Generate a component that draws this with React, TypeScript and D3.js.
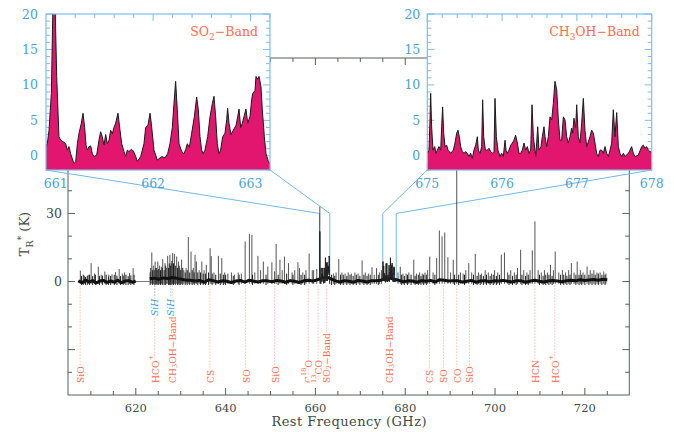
import React from 'react';
import * as d3 from 'd3';

const SERIF = "'DejaVu Serif', 'Liberation Serif', serif";

// ---------------- main spectrum data ----------------
const X_DOMAIN: [number, number] = [604.9, 729.9];
const Y_DOMAIN: [number, number] = [-50, 98.5];
const xTickLabels = [620, 640, 660, 680, 700, 720];
const yTickLabels = [0, 30];

const seg1Range = [607.2, 620.0];
const seg1Base = [0.3, -0.5, 0.6, -0.2, 0.4, -0.6, 0.2, 0.5, -0.4, 0.3, -0.3, 0.6, -0.5, 0.2, 0.4, -0.3, 0.2];
const seg2Range = [623.1, 725.0];
const seg2Base = [
  1.2, 1.5, 1.0, 1.6, 1.3, 1.8, 1.4, 1.0, 0.6,
  0.6, 0.2, 0.5, -0.3, 0.8, 0.4, -0.2, 0.3, 0.1,
  -0.4, 0.2, 0.5, -0.3, 0.6, 0.1, -0.2, 0.4, 0.3, -0.1,
  0.5, 0.2, -0.3, 0.4, 0.1, -0.4, 0.3, 0.6, 0.2, 0.8,
  1.5, 2.0, 1.2, 0.3, -0.2, 0.4, 0.1, -0.3, 0.5, 0.2,
  -0.2, 0.4, 0.3, 0.6, 1.2, 1.5, 1.0, 0.5, -0.1, 0.3,
  0.2, -0.3, 0.4, 0.1, 0.5, -0.2, 0.8, 0.6, 0.2, 0.4,
  0.3, -0.2, 0.1, 0.5, -0.3, 0.2, 0.4, -0.1, 0.3, 0.2,
  0.5, 0.1, -0.2, 0.4, 0.3, -0.3, 0.2, 0.6, 0.1, -0.2,
  0.3, 0.5, 0.2, -0.1, 0.4, 0.6, 0.3, 0.8, 0.5, 0.7,
  0.9, 0.6, 1.0, 0.8,
];

// strong lines
const peakFreq = [
  607.65, 608.6, 609.4, 610.05, 610.8, 611.65, 612.3, 613.1, 614.0, 614.7, 615.5, 616.3, 617.0, 617.5, 618.6, 619.4,
  623.3, 623.56, 623.9, 624.3, 624.6, 624.9, 625.3, 625.7, 626.0, 626.5, 626.8, 627.1, 627.6, 627.9, 628.2, 628.6, 629.1, 629.5, 629.8, 630.2, 630.7, 631.2, 631.7, 632.3, 632.8, 633.2, 633.5, 634.1, 634.7, 635.2, 635.7, 636.55, 636.8, 637.4, 638.4, 639.15, 639.8, 640.5, 641.3, 642.0, 642.8, 643.5, 644.35, 645.3, 645.85, 646.5, 647.2, 647.8, 648.4, 649.4, 650.3, 650.9, 651.25, 652.1, 652.6, 653.1, 654.0, 654.8, 655.4, 656.1, 656.45, 657.2, 657.9, 658.6, 659.3, 659.6, 660.3, 660.98,
  664.0, 664.6, 665.2, 665.9, 666.6, 667.3, 668.0, 668.8, 669.5, 670.4, 671.1, 671.8, 672.6, 673.1, 673.6, 674.3, 674.7,
  678.4, 678.9, 679.5, 680.2, 680.8, 681.9, 682.5, 683.2, 683.8, 684.4, 685.0, 685.45, 686.2, 687.0, 687.6, 688.2, 688.8, 689.5, 690.1, 690.7, 691.47, 692.3, 692.9, 693.5, 694.15, 694.8, 695.6, 696.3, 697.0, 697.8, 698.5, 699.2, 699.9, 700.6, 701.4, 702.1, 702.8, 703.5, 704.3, 705.0, 705.7, 706.4, 707.1, 707.8, 708.3, 708.88, 709.6, 710.3, 711.0, 711.7, 712.35, 713.0, 713.4, 714.2, 715.0, 715.7, 716.4, 717.0, 717.6, 718.3, 719.0, 719.6, 720.5, 721.2, 722.0, 722.7, 723.4, 724.2, 724.7,
];
const peakTemp = [
  4.8, 2.5, 3.0, 8.1, 3.5, 6.5, 3.0, 4.4, 3.0, 3.2, 4.2, 5.5, 3.5, 4.0, 3.7, 5.9,
  6.0, 12.8, 7.0, 8.8, 6.0, 8.8, 7.0, 6.5, 9.9, 8.1, 6.0, 11.3, 11.8, 8.0, 12.5, 12.2, 11.0, 8.8, 6.0, 9.6, 5.0, 6.0, 19.6, 13.2, 6.0, 11.8, 8.8, 5.0, 8.8, 5.0, 7.4, 14.7, 11.2, 4.0, 11.3, 10.3, 4.0, 3.5, 4.0, 3.0, 4.0, 3.5, 17.6, 21.0, 20.6, 4.0, 11.3, 5.0, 8.8, 6.6, 8.5, 4.5, 16.6, 9.6, 5.0, 11.0, 8.1, 4.0, 5.0, 8.5, 5.9, 4.0, 5.0, 12.3, 5.0, 5.0, 5.5, 33.0,
  3.5, 4.0, 9.9, 4.0, 3.5, 4.0, 3.5, 4.0, 3.5, 9.3, 4.0, 3.5, 6.3, 3.0, 5.9, 4.0, 5.0,
  4.0, 6.5, 3.5, 3.5, 4.0, 9.6, 3.5, 4.0, 3.5, 4.0, 5.0, 11.0, 4.0, 10.3, 22.5, 19.9, 21.6, 10.7, 4.0, 9.6, 60.0, 4.0, 3.5, 5.0, 8.1, 4.0, 12.2, 4.0, 3.5, 5.0, 4.0, 3.5, 5.0, 4.0, 11.8, 12.8, 4.0, 5.0, 4.0, 6.0, 14.0, 5.0, 4.0, 5.0, 13.7, 26.5, 5.0, 4.0, 5.0, 4.0, 7.4, 5.0, 13.2, 4.0, 5.0, 4.0, 5.0, 8.1, 4.0, 8.8, 5.0, 4.0, 6.6, 5.0, 5.0, 4.0, 4.0, 4.4, 3.5,
];

// weak features of the dense forest
const weakFreq = [
  607.9, 608.3, 608.8, 609.2, 609.7, 610.4, 611.0, 611.9, 612.6, 613.4, 613.9, 614.4, 615.2, 615.8, 616.6, 617.2, 617.8, 618.3, 618.9, 619.6,
  623.2, 623.7, 624.1, 624.45, 624.75, 625.1, 625.5, 625.9, 626.3, 626.65, 627.3, 627.45, 627.75, 628.05, 628.4, 628.8, 629.3, 629.65, 630.0, 630.45, 631.0, 631.45, 632.0, 632.55, 633.0, 633.8, 634.4, 635.0, 635.5, 636.2, 637.0, 637.8, 638.8, 639.5,
  640.0, 641.7, 643.0, 646.0, 649.0, 651.7, 653.6, 655.0, 656.8, 657.6, 663.6, 664.3, 665.6, 666.2, 667.0, 667.7, 668.4, 669.1, 669.9, 670.8, 671.5, 672.2, 674.0,
  679.2, 679.8, 680.5, 681.3, 682.2, 682.9, 683.5, 684.1, 684.7, 686.6, 691.0, 691.9, 693.2, 695.2, 696.0, 696.7, 697.4, 698.1, 698.9, 699.6, 700.3, 701.0, 703.1, 703.9, 704.7, 706.0, 706.8, 707.4, 709.9, 710.7, 711.3, 712.0, 712.7, 714.6, 715.3, 716.0, 716.7, 718.0, 718.7, 719.3, 720.0, 720.9, 721.6, 722.3, 723.0, 723.8, 724.5,
];
const weakTemp = [
  2.5, 3.0, 2.0, 2.5, 3.0, 2.5, 3.0, 2.5, 2.6, 3.0, 2.2, 2.5, 3.0, 2.6, 2.4, 2.6, 3.0, 2.4, 2.7, 3.0,
  4.0, 5.0, 5.0, 6.0, 5.0, 5.5, 5.0, 6.0, 5.0, 7.0, 6.0, 8.0, 7.0, 9.0, 8.0, 7.0, 6.0, 7.0, 5.0, 6.0, 4.0, 5.0, 4.0, 5.0, 4.0, 4.0, 4.0, 3.5, 3.5, 4.0, 3.5, 3.0, 3.5, 3.0,
  3.0, 2.5, 3.0, 3.0, 3.0, 3.0, 3.5, 3.0, 3.0, 3.0, 3.0, 2.5, 3.0, 3.0, 2.5, 3.0, 2.5, 3.0, 2.5, 3.0, 2.5, 3.0, 3.0,
  3.0, 2.5, 3.0, 3.0, 2.5, 3.0, 2.5, 3.0, 3.0, 3.0, 3.0, 3.0, 3.0, 3.0, 2.5, 3.0, 2.5, 3.0, 2.5, 3.0, 2.5, 3.0, 3.0, 2.5, 3.0, 3.0, 2.5, 3.0, 3.0, 2.5, 3.0, 3.0, 2.5, 3.0, 3.0, 2.5, 3.0, 3.0, 3.0, 3.0, 3.0, 3.0, 3.5, 3.0, 3.5, 3.0, 3.0,
];

// ---------------- inset data ----------------
const so2Freq = [
  660.900, 660.914, 660.931, 660.955, 660.972, 660.992, 661.010, 661.033, 661.051, 661.085, 661.102, 661.119, 661.136, 661.153, 661.187, 661.205, 661.222, 661.239, 661.263, 661.280, 661.297, 661.311, 661.324, 661.341, 661.359, 661.376, 661.393, 661.420, 661.444, 661.461, 661.478, 661.495, 661.513, 661.530, 661.547, 661.564, 661.581, 661.598, 661.615, 661.639, 661.660, 661.677, 661.701, 661.718, 661.735, 661.752, 661.776, 661.797, 661.821, 661.838, 661.872, 661.906, 661.923, 661.947, 661.968, 661.981, 662.009, 662.043, 662.088, 662.122, 662.149, 662.173, 662.197, 662.214, 662.231, 662.248, 662.266, 662.293, 662.317, 662.334, 662.351, 662.372, 662.396, 662.423, 662.447, 662.464, 662.481, 662.498, 662.515, 662.532, 662.560, 662.584, 662.608, 662.625, 662.642, 662.659, 662.676, 662.693, 662.714, 662.738, 662.755, 662.765, 662.779, 662.799, 662.823, 662.851, 662.868, 662.882, 662.899, 662.916, 662.936, 662.953, 662.971, 662.994, 663.012, 663.022, 663.046, 663.056, 663.073, 663.087, 663.107, 663.121, 663.142, 663.159, 663.183, 663.200,
];
const so2Temp = [
  1.3, 1.8, 3.6, 8.8, 22, 22, 11.2, 2.7, 2.2, 1.9, 1.7, 0.8, 1.3, 0.3, -1.1, -0.8, 1.7, 3.2, 4.6, 6.0, 4.0, 1.5, 0.8, 1.3, 1.4, 0.3, -0.1, 0.1, 2.2, 3.4, 2.7, 1.5, 3.0, 1.7, 2.2, 3.6, 3.1, 4.0, 4.6, 6.0, 3.6, 1.7, 0.6, -0.1, 0.8, 0.6, 0.9, 0.7, -0.1, -0.8, -0.1, 1.7, 4.0, 4.3, 6.0, 4.6, 0.8, -0.6, -0.1, -0.3, 0.3, 1.7, 4.0, 7.4, 10.5, 6.5, 1.7, 0.6, 0.3, 0.9, 1.7, 1.2, 3.2, 5.5, 8.3, 6.5, 2.7, 0.8, 0.3, 0.8, 2.7, 5.5, 7.4, 8.4, 5.5, 1.7, 0.3, 0.8, 2.7, 3.2, 5.1, 6.7, 4.6, 3.0, 3.6, 4.3, 5.5, 6.6, 4.0, 4.6, 5.7, 6.6, 4.6, 5.5, 7.9, 8.8, 9.2, 11.2, 10.8, 11.2, 9.8, 6.5, 2.7, 0.3, -0.8, -1.1,
];

const ch3ohFreq = [
  675.000, 675.023, 675.036, 675.045, 675.058, 675.076, 675.099, 675.116, 675.134, 675.156, 675.179, 675.192, 675.205, 675.219, 675.237, 675.259, 675.277, 675.295, 675.312, 675.348, 675.370, 675.393, 675.410, 675.428, 675.446, 675.468, 675.491, 675.513, 675.535, 675.557, 675.580, 675.602, 675.624, 675.647, 675.669, 675.682, 675.705, 675.727, 675.740, 675.754, 675.776, 675.803, 675.825, 675.847, 675.869, 675.892, 675.905, 675.923, 675.945, 675.972, 675.994, 676.016, 676.039, 676.052, 676.070, 676.092, 676.115, 676.137, 676.159, 676.181, 676.204, 676.226, 676.248, 676.270, 676.293, 676.315, 676.337, 676.360, 676.382, 676.400, 676.418, 676.449, 676.462, 676.476, 676.493, 676.520, 676.538, 676.560, 676.574, 676.596, 676.618, 676.640, 676.663, 676.685, 676.707, 676.730, 676.752, 676.774, 676.796, 676.819, 676.841, 676.863, 676.885, 676.908, 676.930, 676.943, 676.961, 676.984, 676.997, 677.019, 677.041, 677.064, 677.086, 677.108, 677.131, 677.153, 677.175, 677.197, 677.220, 677.242, 677.264, 677.286, 677.309, 677.331, 677.353, 677.376, 677.398, 677.420, 677.443, 677.465, 677.487, 677.509, 677.532, 677.554, 677.576, 677.599, 677.621, 677.643, 677.688, 677.710, 677.732, 677.754, 677.777, 677.821, 677.866, 677.888, 677.910, 677.933, 677.955, 677.977, 678.000,
];
const ch3ohTemp = [
  0.35, 0.8, 5.0, 8.8, 4.1, 0.8, 1.3, 0.35, 0.8, 1.3, 0.8, 4.1, 6.9, 3.2, 1.3, 1.5, 0.8, 0.6, 0.35, 0.8, 1.8, 3.2, 3.6, 2.7, 1.3, 0.6, 0.35, 0.6, 0.35, -0.1, 0.35, -0.35, 0.8, 1.5, 2.7, 0.8, 0.35, 1.3, 7.9, 2.7, 0.8, 0.8, 1.06, 0.6, 0.35, 0.6, 8.1, 2.7, 0.8, -0.1, 0.35, -0.1, 2.2, 0.8, 0.35, 0.8, 1.5, 1.8, 2.2, 2.9, 1.8, 0.35, 0.35, 0.8, 1.8, 0.8, 1.3, 0.35, 0.8, 7.2, 2.7, -0.1, 1.8, 4.1, 0.8, 1.3, 2.7, 4.1, 2.7, 1.3, 2.7, 5.5, 5.05, 7.4, 10.5, 9.3, 5.05, 2.2, 2.2, 5.5, 5.05, 2.7, 1.8, 2.7, 3.9, 3.2, 5.3, 3.9, 7.2, 2.7, 1.8, 4.6, 8.1, 3.6, 1.3, 2.0, 2.7, 3.6, 3.2, 1.8, 0.35, -0.1, 0.8, 0.8, 0.35, 1.3, 0.35, -0.1, 0.8, 1.8, 6.5, 2.7, 6.1, 1.3, 0.35, -0.1, 0.35, -0.1, 0.35, 0.8, 1.3, 0.35, -0.1, 0.1, 1.3, 1.5, 1.06, 1.3, 0.8, 0.6, 0.5,
];

// ---------------- line identifications ----------------
const lineFreqs = [607.6, 624.2, 628.1, 636.5, 644.45, 650.9, 658.4, 660.6, 662.45, 676.45, 685.4, 688.5, 691.47, 694.3, 708.88, 713.3];
const lineNames = ['SiO', 'HCO^+', 'CH_3OH\u2212Band', 'CS', 'SO', 'SiO', 'C^{18}O', '^{13}CO', 'SO_2\u2212Band', 'CH_3OH\u2212Band', 'CS', 'SO', 'CO', 'SiO', 'HCN', 'HCO^+'];
const sihFreqs = [624.2, 627.75];

// ---------------- helpers ----------------
type Seg = { t: string; k: 'n' | 'sup' | 'sub' };
function parseRich(s: string): Seg[] {
  const out: Seg[] = [];
  let buf = '';
  let i = 0;
  while (i < s.length) {
    const c = s[i];
    if (c === '^' || c === '_') {
      if (buf) { out.push({ t: buf, k: 'n' }); buf = ''; }
      let t = '';
      if (s[i + 1] === '{') {
        const j = s.indexOf('}', i + 2);
        t = s.slice(i + 2, j);
        i = j + 1;
      } else {
        t = s[i + 1];
        i += 2;
      }
      out.push({ t, k: c === '^' ? 'sup' : 'sub' });
    } else {
      buf += c;
      i++;
    }
  }
  if (buf) out.push({ t: buf, k: 'n' });
  return out;
}
function richSpans(s: string, fs: number) {
  let shift = 0;
  return parseRich(s).map((sg, i) => {
    const target = sg.k === 'sup' ? -0.42 * fs : sg.k === 'sub' ? 0.3 * fs : 0;
    const dy = target - shift;
    shift = target;
    return (
      <tspan key={i} dy={dy} fontSize={sg.k === 'n' ? fs : fs * 0.72}>
        {sg.t}
      </tspan>
    );
  });
}

const INSET_BLUE = '#7dbde9';
const INSET_TEXT = '#4a9fd8';
const RED = '#ff6a4d';
const AXIS = '#55625a';
const AXIS_TEXT = '#3d4c44';

type InsetProps = {
  id: string;
  x0: number; x1: number; y0: number; y1: number;
  fDomain: [number, number];
  freq: number[]; temp: number[];
  title: string;
  xLabels: number[];
  labelGap: number;
};

function Inset(p: InsetProps) {
  const xs = d3.scaleLinear().domain(p.fDomain).range([p.x0, p.x1]);
  const ys = d3.scaleLinear().domain([-2, 20]).range([p.y1, p.y0]);
  const pts = p.freq.map((f, i) => [f, p.temp[i]] as [number, number]);
  const area = d3.area<[number, number]>().x(d => xs(d[0])).y0(ys(-2)).y1(d => ys(d[1]))(pts) || '';
  const line = d3.line<[number, number]>().x(d => xs(d[0])).y(d => ys(d[1]))(pts) || '';
  const xt = d3.range(Math.ceil(p.fDomain[0] * 5 - 1e-6), Math.floor(p.fDomain[1] * 5 + 1e-6) + 1).map(k => k / 5);
  const yt = d3.range(-2, 21);
  const isMajX = (f: number) => Math.abs(f - Math.round(f)) < 1e-6;
  const isMajY = (t: number) => t % 5 === 0;
  return (
    <g>
      <defs>
        <clipPath id={p.id}>
          <rect x={p.x0} y={p.y0} width={p.x1 - p.x0} height={p.y1 - p.y0} />
        </clipPath>
      </defs>
      <rect x={p.x0} y={p.y0} width={p.x1 - p.x0} height={p.y1 - p.y0} fill="#fff" />
      <g stroke={INSET_BLUE} strokeWidth={1}>
        {xt.map(f => (
          <g key={'x' + f}>
            <line x1={xs(f)} x2={xs(f)} y1={p.y0} y2={p.y0 + (isMajX(f) ? 7 : 4)} />
            <line x1={xs(f)} x2={xs(f)} y1={p.y1} y2={p.y1 - (isMajX(f) ? 7 : 4)} />
          </g>
        ))}
        {yt.map(t => (
          <g key={'y' + t}>
            <line x1={p.x0} x2={p.x0 + (isMajY(t) ? 7 : 4)} y1={ys(t)} y2={ys(t)} />
            <line x1={p.x1} x2={p.x1 - (isMajY(t) ? 7 : 4)} y1={ys(t)} y2={ys(t)} />
          </g>
        ))}
      </g>
      <g clipPath={`url(#${p.id})`}>
        <path d={area} fill="#e2166f" />
        <path d={line} fill="none" stroke="#1a1a1a" strokeWidth={1} strokeLinejoin="round" />
      </g>
      <rect x={p.x0} y={p.y0} width={p.x1 - p.x0} height={p.y1 - p.y0} fill="none" stroke={INSET_BLUE} strokeWidth={1.2} />
      <g fill={INSET_TEXT} fontFamily={SERIF} fontSize={12.5}>
        {[0, 5, 10, 15, 20].map(t => (
          <text key={'yl' + t} x={p.x0 - p.labelGap} y={ys(t) + 4.5} textAnchor="end">{t}</text>
        ))}
        {p.xLabels.map(f => (
          <text key={'xl' + f} x={xs(f)} y={p.y1 + 18} textAnchor="middle">{f}</text>
        ))}
      </g>
      <text x={p.x1 - 12} y={p.y0 + 22} textAnchor="end" fill={RED} fontFamily={SERIF} fontSize={12.5}>
        {richSpans(p.title, 12.5)}
      </text>
    </g>
  );
}

export default function App() {
  const W = 674, H = 432;
  const xm = d3.scaleLinear().domain(X_DOMAIN).range([68, 629.3]);
  const ym = d3.scaleLinear().domain(Y_DOMAIN).range([395, 58]);

  const basePts = (range: number[], vals: number[]) =>
    vals.map((v, i) => [range[0] + (i * (range[1] - range[0])) / (vals.length - 1), v] as [number, number]);
  const mainLine = d3.line<[number, number]>().x(d => xm(d[0])).y(d => ym(d[1]));
  const b1 = mainLine(basePts(seg1Range, seg1Base)) || '';
  const b2 = mainLine(basePts(seg2Range, seg2Base)) || '';
  const so2Main = mainLine(so2Freq.map((f, i) => [f, so2Temp[i]] as [number, number])) || '';
  const ch3Main = mainLine(ch3ohFreq.map((f, i) => [f, ch3ohTemp[i]] as [number, number])) || '';

  const xTicks = d3.range(610, 730, 5);
  const yTicks = d3.range(-40, 100, 10);

  const L = { x0: 46, x1: 270, y0: 14, y1: 170 };
  const R = { x0: 427.3, x1: 651.7, y0: 14, y1: 170 };

  const labFs = 9.2;

  return (
    <svg width={W} height={H} style={{ position: 'absolute', left: 0, top: 0, background: '#fff' }}>
      <rect x={0} y={0} width={W} height={H} fill="#fff" />
      {/* main frame */}
      <rect x={xm(X_DOMAIN[0])} y={ym(Y_DOMAIN[1])} width={xm(X_DOMAIN[1]) - xm(X_DOMAIN[0])} height={ym(Y_DOMAIN[0]) - ym(Y_DOMAIN[1])} fill="none" stroke={AXIS} strokeWidth={1} />
      <g stroke={AXIS} strokeWidth={1}>
        {xTicks.map(f => {
          const maj = f % 20 === 0;
          return (
            <g key={'mx' + f}>
              <line x1={xm(f)} x2={xm(f)} y1={ym(-50)} y2={ym(-50) - (maj ? 7 : 4)} />
              <line x1={xm(f)} x2={xm(f)} y1={ym(Y_DOMAIN[1])} y2={ym(Y_DOMAIN[1]) + (maj ? 7 : 4)} />
            </g>
          );
        })}
        {yTicks.map(t => {
          const maj = t % 30 === 0;
          return (
            <g key={'my' + t}>
              <line x1={xm(X_DOMAIN[0])} x2={xm(X_DOMAIN[0]) + (maj ? 7 : 4)} y1={ym(t)} y2={ym(t)} />
              <line x1={xm(X_DOMAIN[1])} x2={xm(X_DOMAIN[1]) - (maj ? 7 : 4)} y1={ym(t)} y2={ym(t)} />
            </g>
          );
        })}
      </g>
      <g fill={AXIS_TEXT} fontFamily={SERIF} fontSize={11.5}>
        {xTickLabels.map(f => (
          <text key={'xl' + f} x={xm(f)} y={412} textAnchor="middle">{f}</text>
        ))}
        {yTickLabels.map(t => (
          <text key={'yl' + t} x={62} y={ym(t) + 4.5} textAnchor="end" fontSize={12.5}>{t}</text>
        ))}
      </g>
      <text x={349} y={426} textAnchor="middle" fill={AXIS_TEXT} fontFamily={SERIF} fontSize={13} textLength={155} lengthAdjust="spacing">
        Rest Frequency (GHz)
      </text>
      <text transform="translate(29,234) rotate(-90)" textAnchor="middle" fill={AXIS_TEXT} fontFamily={SERIF} fontSize={13}>
        {richSpans('T_R^* (K)', 13)}
      </text>

      {/* line identifications */}
      <g>
        {lineFreqs.map((f, i) => (
          <line key={'dl' + i} x1={xm(f)} x2={xm(f)} y1={ym(-1.8)} y2={380} stroke="#ff8a70" strokeWidth={0.8} strokeDasharray="1,2" />
        ))}
        {sihFreqs.map((f, i) => (
          <line key={'ds' + i} x1={xm(f)} x2={xm(f)} y1={ym(-1.8)} y2={296} stroke="#6db3e4" strokeWidth={0.8} strokeDasharray="1,2" />
        ))}
        {lineFreqs.map((f, i) => (
          <text key={'lt' + i} transform={`translate(${xm(f)},383) rotate(-90)`} dominantBaseline="central" fill={RED} fontFamily={SERIF} fontSize={labFs} stroke="#fff" strokeWidth={3} paintOrder="stroke">
            {richSpans(lineNames[i], labFs)}
          </text>
        ))}
        {sihFreqs.map((f, i) => (
          <text key={'st' + i} transform={`translate(${xm(f)},316) rotate(-90)`} dominantBaseline="central" fill="#3d9ad8" fontFamily={SERIF} fontStyle="italic" fontSize={labFs} stroke="#fff" strokeWidth={3} paintOrder="stroke">
            SiH
          </text>
        ))}
      </g>

      {/* zoom connectors */}
      <g stroke="#74b8e6" strokeWidth={1} fill="none">
        <line x1={L.x0} y1={L.y1} x2={xm(660.9)} y2={ym(30)} />
        <line x1={L.x1} y1={L.y1} x2={xm(663.2)} y2={ym(30)} />
        <line x1={xm(660.9)} y1={ym(30)} x2={xm(660.9)} y2={ym(0)} />
        <line x1={xm(663.2)} y1={ym(30)} x2={xm(663.2)} y2={ym(0)} />
        <line x1={R.x0} y1={R.y1} x2={xm(675)} y2={ym(30)} />
        <line x1={R.x1} y1={R.y1} x2={xm(678)} y2={ym(30)} />
        <line x1={xm(675)} y1={ym(30)} x2={xm(675)} y2={ym(0)} />
        <line x1={xm(678)} y1={ym(30)} x2={xm(678)} y2={ym(0)} />
      </g>

      {/* main spectrum */}
      <g>
        <line x1={xm(seg1Range[1])} x2={xm(seg2Range[0])} y1={ym(0)} y2={ym(0)} stroke="#777" strokeWidth={1} />
        {weakFreq.map((f, i) => (
          <line key={'wk' + i} x1={xm(f)} x2={xm(f)} y1={ym(-1.5)} y2={ym(weakTemp[i])} stroke="#1e1e1e" strokeWidth={1} />
        ))}
        {peakFreq.map((f, i) => (
          <line key={'pk' + i} x1={xm(f)} x2={xm(f)} y1={ym(-1)} y2={ym(peakTemp[i])} stroke="#2a2a2a" strokeWidth={1} strokeOpacity={0.8} />
        ))}
        <path d={b1} fill="none" stroke="#111" strokeWidth={3} strokeLinejoin="round" />
        <path d={b2} fill="none" stroke="#111" strokeWidth={3} strokeLinejoin="round" />
        <path d={so2Main} fill="none" stroke="#222" strokeWidth={1} />
        <path d={ch3Main} fill="none" stroke="#222" strokeWidth={1} />
      </g>

      {/* insets */}
      <Inset id="clipL" {...L} fDomain={[660.9, 663.2]} freq={so2Freq} temp={so2Temp} title={'SO_2\u2212Band'} xLabels={[661, 662, 663]} labelGap={8} />
      <Inset id="clipR" {...R} fDomain={[675, 678]} freq={ch3ohFreq} temp={ch3ohTemp} title={'CH_3OH\u2212Band'} xLabels={[675, 676, 677, 678]} labelGap={7} />
    </svg>
  );
}
